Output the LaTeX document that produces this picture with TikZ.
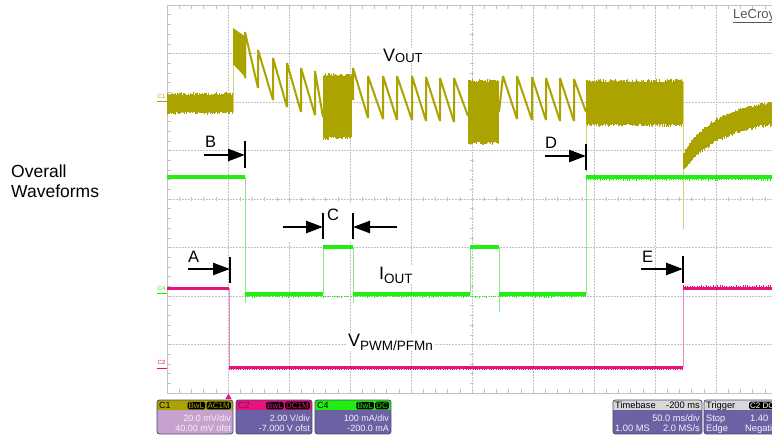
\documentclass[tikz,border=0pt]{standalone}
\usepackage{fontspec}
\setmainfont{Liberation Sans}
\usetikzlibrary{arrows.meta}
\definecolor{vout}{HTML}{ABA300}
\definecolor{voutl}{HTML}{D8D070}
\definecolor{gr}{HTML}{22EE11}
\definecolor{grl}{HTML}{8CE68C}
\definecolor{mag}{HTML}{E6137F}
\definecolor{magl}{HTML}{E98BBE}
\definecolor{gridc}{HTML}{C2C2C2}
\definecolor{cbody}{HTML}{6C62A3}
\definecolor{conebody}{HTML}{C8A2CE}
\definecolor{hdrgray}{HTML}{D8D8D8}
\definecolor{boxedgec}{HTML}{4A4470}
\definecolor{bodytext}{HTML}{F2F2F8}
\tikzset{
  gline/.style={gridc, line width=0.7pt, dash pattern=on 1.5pt off 1.5pt},
  gedge/.style={gridc, line width=0.9pt},
  gtick/.style={gridc, line width=0.6pt},
  gthick/.style={gr, line width=3.5pt},
  gthin/.style={grl, line width=1pt},
  mthick/.style={mag, line width=3pt},
  mthin/.style={magl, line width=1pt},
  saw/.style={vout, line width=2pt, line join=bevel},
  marker/.style={black, line width=2.5pt, -{Triangle[length=17pt,width=12pt]}},
  markbar/.style={black, line width=2.5pt},
  lbl/.style={font=\fontsize{16.5}{18}\selectfont, inner sep=0pt, anchor=base west},
  sig/.style={font=\fontsize{18}{20}\selectfont, inner xsep=2pt, inner ysep=1pt, anchor=base west, fill=white},
  chl/.style={font=\fontsize{6}{7}\selectfont, inner sep=0pt, anchor=base west},
  boxedge/.style={boxedgec, line width=0.8pt},
  badge/.style={fill=black, rounded corners=1.5pt, inner xsep=1pt, inner ysep=1pt, font=\fontsize{8}{9}\selectfont, anchor=base east},
  htext/.style={font=\fontsize{9}{10}\selectfont, inner sep=0pt, anchor=base west},
  btext/.style={font=\fontsize{9}{10}\selectfont, inner sep=0pt, text=bodytext},
  thtext/.style={font=\fontsize{9.3}{10}\selectfont, inner sep=0pt, anchor=base west},
  tbtext/.style={font=\fontsize{9.3}{10}\selectfont, inner sep=0pt, text=bodytext},
}
\newcommand\noisyband[4]{%
  \fill[vout] (#1,#3) rectangle (#2,#4);
  \pgfmathtruncatemacro\nbn{(#2-#1)/1.1}
  \foreach \i in {0,...,\nbn}{%
    \pgfmathsetmacro\nbx{#1+1.1*\i}
    \pgfmathsetmacro\nba{#3-3*rnd}
    \pgfmathsetmacro\nbb{#4+3*rnd}
    \draw[vout,line width=0.7pt] (\nbx,\nba)--(\nbx,\nbb);
  }}
\newcommand\noiseticks[5]{% color x1 x2 y amp
  \pgfmathtruncatemacro\ntn{(#3-#2)/2.3}
  \foreach \i in {0,...,\ntn}{%
    \pgfmathsetmacro\ntx{#2+2.3*\i}
    \pgfmathsetmacro\nty{#4+#5*rnd}
    \draw[#1,line width=0.6pt] (\ntx,#4)--(\ntx,\nty);
  }}
\newcommand\scopebox[4]{%
  \begin{scope}
    \clip[rounded corners=2.5pt] (#1,400) rectangle (#2,434);
    \fill[#4] (#1,400) rectangle (#2,434);
    \fill[#3] (#1,400) rectangle (#2,410);
  \end{scope}
  \draw[boxedge, rounded corners=2.5pt] (#1,400) rectangle (#2,434);}
\begin{document}
\begin{tikzpicture}[x=1pt,y=-1pt]
\useasboundingbox (0,0) rectangle (772,437);
\clip (0,0) rectangle (772,437);
\fill[white] (0,0) rectangle (772,437);
\pgfmathsetseed{11}

% ---------------- grid ----------------
\foreach \x in {228,289,350,411,472,533,594,655,716,777}
  \draw[gline] (\x,5) -- (\x,393);
\foreach \y in {53.5,102,150.5,199,247.5,296,344.5}
  \draw[gline] (167,\y) -- (780,\y);
\draw[gedge] (167,393) -- (167,5) -- (780,5);
\draw[gedge] (167,393) -- (780,393);
\foreach \x in {179.2,191.4,...,780}{
  \draw[gtick] (\x,197) -- (\x,201);
  \draw[gtick] (\x,393) -- (\x,389);
  \draw[gtick] (\x,5) -- (\x,9);}
\foreach \y in {14.7,24.4,...,393}{
  \draw[gtick] (470,\y) -- (474,\y);
  \draw[gtick] (167,\y) -- (171,\y);}

% white backgrounds behind annotation
\fill[white] (280,203) rectangle (400,241);

% ---------------- VOUT trace ----------------
\noisyband{167}{233}{95}{112}
\draw[voutl, line width=1pt] (233,112) -- (233,28);
\fill[vout] (233,28) -- (246,37) -- (246,78) -- (233,64) -- cycle;
\draw[saw] (245,78) -- (245,32) -- (258,88) -- (258,50) -- (273,100) -- (273,58)
  -- (287,107) -- (287,63) -- (301,112) -- (301,68) -- (315,115) -- (315,71) -- (323,117);
\noisyband{323}{352}{76}{137}
\draw[saw] (353,100) -- (353,68) -- (368,118) -- (368,76) -- (383,119) -- (383,76)
  -- (397,120) -- (397,76) -- (412,120) -- (412,76) -- (426,121) -- (426,77)
  -- (440,121) -- (440,78) -- (454,122) -- (454,78) -- (468,116);
\noisyband{468}{499}{82}{142}
\draw[saw] (499,112) -- (503,76) -- (517,119) -- (517,76) -- (532,120) -- (532,77)
  -- (546,120) -- (546,78) -- (560,121) -- (560,78) -- (574,121) -- (574,79) -- (586,112);
\noisyband{586}{683}{82}{124}
\draw[voutl, line width=1pt] (586,124) -- (586,172);
\draw[voutl, line width=1pt] (683,82) -- (683,229);
\foreach \i in {0,...,81}{
  \pgfmathsetmacro\rx{684+1.1*\i}
  \pgfmathsetmacro\rt{100+53*exp(-(\rx-684)/35)-3*rnd}
  \pgfmathsetmacro\rb{118+50*exp(-(\rx-684)/40)+3*rnd}
  \draw[vout, line width=1.1pt] (\rx,\rt) -- (\rx,\rb);}

% ---------------- IOUT trace ----------------
\draw[gthin] (245,177) -- (245,303);
\draw[gthin] (323,294) -- (323,247);
\draw[gthin] (353,247) -- (353,303);
\draw[gthin] (470,294) -- (470,247);
\draw[gthin] (499,247) -- (499,312);
\draw[gthin] (586,294) -- (586,177);
\draw[gthick] (167,177) -- (245,177);
\draw[gthick] (245,294) -- (323,294);
\draw[gthick] (323,247) -- (353,247);
\draw[gthick] (353,294) -- (470,294);
\draw[gthick] (470,247) -- (499,247);
\draw[gthick] (499,294) -- (586,294);
\draw[gthick] (586,177) -- (772,177);
\noiseticks{gr}{245}{586}{295.5}{2.5}
\noiseticks{gr}{586}{772}{178.5}{2.5}

% ---------------- VPWM trace ----------------
\draw[mthin] (229,288) -- (229,367);
\draw[mthin] (683,367) -- (683,288);
\draw[mthick] (167,288) -- (229,288);
\draw[mthick] (229,367) -- (683,367);
\draw[mthick] (683,288) -- (772,288);
\noiseticks{mag}{229}{683}{368.5}{2}
\noiseticks{mag}{683}{772}{286.5}{-2}

% ---------------- channel markers ----------------
\node[chl, text=vout] (c1m) at (157.5,98) {C1};
\draw[vout, line width=0.8pt] (157,101.5) -- (167,101.5);
\node[chl, text=gr] (c4m) at (157.5,290) {C4};
\draw[gr, line width=0.8pt] (157,293.5) -- (167,293.5);
\node[chl, text=mag] (c2m) at (157.5,364.5) {C2};
\draw[mag, line width=0.8pt] (157,368) -- (167,368);
\fill[mag] (225.5,399) -- (231.5,399) -- (228.5,393.5) -- cycle;

% ---------------- labels ----------------
\node[lbl] (lecroy) at (733,18) {\fontsize{13}{14}\selectfont\color[HTML]{555555}\underline{LeCroy}};
\node[font=\fontsize{17.5}{20}\selectfont, inner sep=0pt, anchor=base west] (ov1) at (11,177) {Overall};
\node[font=\fontsize{17.5}{20}\selectfont, inner sep=0pt, anchor=base west] (ov2) at (11,197) {Waveforms};
\node[sig] (voutl) at (381,61) {V{\fontsize{13}{14}\selectfont\raisebox{-1pt}{OUT}}};
\node[sig] (ioutl) at (377,279) {I{\fontsize{13.5}{14}\selectfont\raisebox{-4pt}{OUT}}};
\node[sig] (vpwml) at (346,346) {V{\fontsize{13.5}{14}\selectfont\raisebox{-4pt}{PWM/PFMn}}};

% ---------------- markers A-E ----------------
\node[lbl] (lA) at (188,262) {A};
\coordinate (As) at (188,269); \coordinate (Ae) at (230,269);
\coordinate (At) at (230,257); \coordinate (Ab) at (230,283);
\draw[marker] (As) -- (Ae); \draw[markbar] (At) -- (Ab);

\node[lbl] (lB) at (205,147) {B};
\coordinate (Bs) at (204,155); \coordinate (Be) at (245,155);
\coordinate (Bt) at (245,141); \coordinate (Bb) at (245,168);
\draw[marker] (Bs) -- (Be); \draw[markbar] (Bt) -- (Bb);

\node[lbl] (lC) at (327,220) {C};
\coordinate (Cs) at (283,227); \coordinate (Ce) at (323,227);
\coordinate (Ct) at (323,213); \coordinate (Cb) at (323,239);
\draw[marker] (Cs) -- (Ce); \draw[markbar] (Ct) -- (Cb);
\coordinate (Cs2) at (397,227); \coordinate (Ce2) at (353,227);
\coordinate (Ct2) at (353,213); \coordinate (Cb2) at (353,239);
\draw[marker] (Cs2) -- (Ce2); \draw[markbar] (Ct2) -- (Cb2);

\node[lbl] (lD) at (545,148) {D};
\coordinate (Ds) at (545,156); \coordinate (De) at (586,156);
\coordinate (Dt) at (586,144); \coordinate (Db) at (586,170);
\draw[marker] (Ds) -- (De); \draw[markbar] (Dt) -- (Db);

\node[lbl] (lE) at (642,262) {E};
\coordinate (Es) at (641,269); \coordinate (Ee) at (683,269);
\coordinate (Et) at (683,256); \coordinate (Eb) at (683,283);
\draw[marker] (Es) -- (Ee); \draw[markbar] (Et) -- (Eb);

% ---------------- info boxes ----------------
\scopebox{157}{233}{vout}{conebody}
\node[htext] (c1h) at (159,408.5) {C1};
\node[badge, text=vout] (c1b2) at (231,408.3) {AC1M};
\node[badge, text=vout] (c1b1) at ([xshift=-1pt]c1b2.base west) {BwL};
\node[btext, anchor=base east] (c1t1) at (231,421.5) {20.0 mV/div};
\node[btext, anchor=base east] (c1t2) at (231,431.5) {40.00 mV ofst};

\scopebox{236}{312}{mag}{cbody}
\node[htext, text=mag!60!black] (c2h) at (238,408.5) {C2};
\node[badge, text=mag] (c2b2) at (310,408.3) {DC1M};
\node[badge, text=mag] (c2b1) at ([xshift=-1pt]c2b2.base west) {BwL};
\node[btext, anchor=base east] (c2t1) at (310,421.5) {2.00 V/div};
\node[btext, anchor=base east] (c2t2) at (310,431.5) {-7.000 V ofst};

\scopebox{315}{391}{gr}{cbody}
\node[htext] (c4h) at (317,408.5) {C4};
\node[badge, text=gr] (c4b2) at (389,408.3) {DC};
\node[badge, text=gr] (c4b1) at ([xshift=-1pt]c4b2.base west) {BwL};
\node[btext, anchor=base east] (c4t1) at (389,421.5) {100 mA/div};
\node[btext, anchor=base east] (c4t2) at (389,431.5) {-200.0 mA};

\scopebox{613}{702}{hdrgray}{cbody}
\node[thtext] (tbh) at (615,408.5) {Timebase};
\node[thtext, anchor=base east] (tbv) at (700,408.5) {-200 ms};
\node[tbtext, anchor=base east] (tb1) at (700,421.5) {50.0 ms/div};
\node[tbtext, anchor=base west] (tb2) at (615,431.5) {1.00 MS};
\node[tbtext, anchor=base east] (tb3) at (700,431.5) {2.0 MS/s};

\scopebox{704}{800}{hdrgray}{cbody}
\node[thtext] (trh) at (706,408.5) {Trigger};
\node[badge, text=white, anchor=base west] (trb) at (749,408.3) {C2 DC};
\node[tbtext, anchor=base west] (tr1) at (706,421.5) {Stop};
\node[tbtext, anchor=base west] (tr2) at (750,421.5) {1.40};
\node[tbtext, anchor=base west] (tr3) at (706,431.5) {Edge};
\node[tbtext, anchor=base west] (tr4) at (745,431.5) {Negative};
\end{tikzpicture}
\end{document}
